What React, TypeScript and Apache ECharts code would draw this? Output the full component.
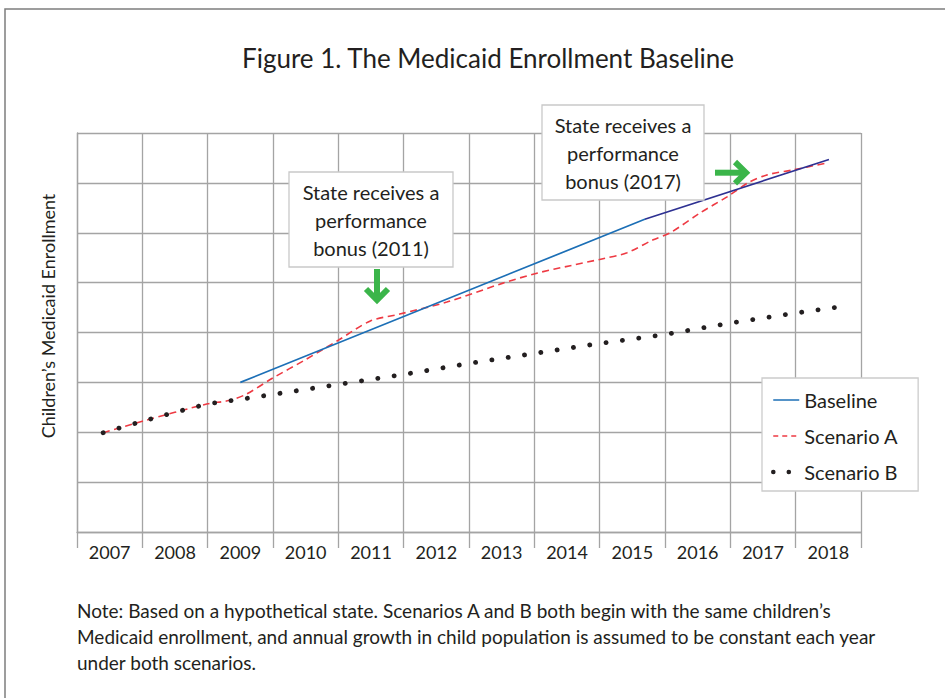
import React, { useEffect, useRef } from 'react';
import * as echarts from 'echarts';

const FONT = 'Lato';
const TEXT_COLOR = '#231f20';
const GRID_COLOR = '#a4a4a4';

const titleText = 'Figure 1. The Medicaid Enrollment Baseline';
const yAxisName = 'Children\u2019s Medicaid Enrollment';
const years = ['2007', '2008', '2009', '2010', '2011', '2012', '2013', '2014', '2015', '2016', '2017', '2018'];
const yearMin = 2007;
const yearMax = 2019;
const yMin = 0;
const yMax = 8;

const baselineX = [2009.5, 2015.69, 2018.51];
const baselineY = [3.0, 6.27, 7.47];

const scenarioAX = [2007.4, 2008.0, 2009.0, 2009.3, 2009.57, 2010.0, 2010.49, 2010.98, 2011.49, 2011.94, 2012.66, 2013.52, 2014.04, 2014.55, 2015.05, 2015.42, 2015.82, 2016.08, 2016.54, 2016.95, 2017.27, 2017.56, 2017.96, 2018.48];
const scenarioAY = [1.99, 2.22, 2.57, 2.63, 2.75, 3.09, 3.45, 3.83, 4.23, 4.37, 4.61, 4.99, 5.19, 5.34, 5.48, 5.6, 5.86, 6.0, 6.4, 6.72, 7.0, 7.16, 7.26, 7.4];

const scenarioBX = [2007.4, 2008.0, 2008.5, 2009.0, 2009.5, 2010, 2011, 2012, 2013, 2014, 2015, 2016, 2017, 2018, 2018.65];
const scenarioBY = [1.99, 2.22, 2.4, 2.57, 2.66, 2.76, 2.96, 3.16, 3.38, 3.58, 3.78, 3.96, 4.19, 4.39, 4.51];

const seriesNames = ['Baseline', 'Scenario A', 'Scenario B'];
const annotation2011 = ['State receives a', 'performance', 'bonus (2011)'];
const annotation2017 = ['State receives a', 'performance', 'bonus (2017)'];
const noteLines = [
  'Note: Based on a hypothetical state. Scenarios A and B both begin with the same children\u2019s',
  'Medicaid enrollment, and annual growth in child population is assumed to be constant each year',
  'under both scenarios.',
];

const zip = (xs: number[], ys: number[]) => xs.map((x, i) => [x, ys[i]]);

export default function App() {
  const ref = useRef<HTMLDivElement>(null);

  useEffect(() => {
    if (!ref.current) return;
    const chart = echarts.init(ref.current, null, { renderer: 'svg' });

    const kink = (baselineX[1] - baselineX[0]) / (baselineX[baselineX.length - 1] - baselineX[0]);
    const baseGrad = new echarts.graphic.LinearGradient(0, 0, 1, 0, [
      { offset: 0, color: '#1c6fb6' },
      { offset: kink, color: '#1c6fb6' },
      { offset: kink, color: '#2e3192' },
      { offset: 1, color: '#2e3192' },
    ]);

    const green = '#3bb54a';

    const box = (x: number, y: number, w: number, h: number, lines: string[]) => ({
      type: 'group',
      x,
      y,
      z: 100,
      children: [
        {
          type: 'rect',
          z: 100,
          shape: { x: 0, y: 0, width: w, height: h },
          style: { fill: '#ffffff', stroke: '#c9c9c9', lineWidth: 1.3 },
        },
        {
          type: 'text',
          z: 101,
          x: w / 2,
          y: h / 2,
          style: {
            text: lines.join('\n'),
            fill: TEXT_COLOR,
            font: `20px ${FONT}`,
            lineHeight: 28,
            align: 'center',
            verticalAlign: 'middle',
          },
        },
      ],
    });

    chart.setOption({
      animation: false,
      backgroundColor: '#ffffff',
      title: {
        text: titleText,
        left: 237,
        top: 40,
        textStyle: { fontFamily: FONT, fontSize: 26, fontWeight: 'normal', color: TEXT_COLOR },
      },
      grid: { left: 77, right: 84, top: 133, bottom: 166, containLabel: false },
      legend: {
        orient: 'vertical',
        left: 762,
        top: 378,
        align: 'left',
        itemWidth: 26,
        itemHeight: 14,
        itemGap: 16,
        padding: [12, 20, 9, 9],
        backgroundColor: '#ffffff',
        borderColor: '#cccccc',
        borderWidth: 1.3,
        z: 100,
        itemStyle: { opacity: 0, color: 'rgba(0,0,0,0)', borderWidth: 0 },
        textStyle: { fontFamily: FONT, fontSize: 20, color: TEXT_COLOR, lineHeight: 20 },
        data: [
          { name: seriesNames[0], lineStyle: { color: '#1c6fb6', width: 1.5, type: 'solid' } },
          { name: seriesNames[1], lineStyle: { color: '#ee3a43', width: 1.5, type: [5, 4] } },
          { name: seriesNames[2], lineStyle: { color: TEXT_COLOR, width: 4.5, type: [0.1, 15.4], cap: 'round' } },
        ],
      },
      xAxis: [
        {
          type: 'category',
          data: years,
          boundaryGap: true,
          axisLine: { show: true, lineStyle: { color: GRID_COLOR, width: 1.3 } },
          axisTick: { show: true, length: 16, lineStyle: { color: GRID_COLOR, width: 1.3 } },
          axisLabel: { fontFamily: FONT, fontSize: 18, color: TEXT_COLOR, margin: 11 },
          splitLine: { show: true, lineStyle: { color: GRID_COLOR, width: 1.3 } },
        },
        {
          type: 'value',
          min: yearMin,
          max: yearMax,
          show: false,
          splitLine: { show: false },
        },
      ],
      yAxis: {
        type: 'value',
        min: yMin,
        max: yMax,
        interval: 1,
        axisLine: { show: true, lineStyle: { color: GRID_COLOR, width: 1.3 } },
        axisTick: { show: false },
        axisLabel: { show: false },
        splitLine: { show: true, lineStyle: { color: GRID_COLOR, width: 1.3 } },
      },
      series: [
        {
          name: seriesNames[1],
          type: 'line',
          xAxisIndex: 1,
          data: zip(scenarioAX, scenarioAY),
          showSymbol: false,
          symbol: 'none',
          smooth: 0.3,
          lineStyle: { color: '#ee3a43', width: 1.6, type: [7, 4.5] },
          itemStyle: { color: '#ee3a43' },
          z: 3,
        },
        {
          name: seriesNames[2],
          type: 'line',
          xAxisIndex: 1,
          data: zip(scenarioBX, scenarioBY),
          showSymbol: false,
          symbol: 'none',
          lineStyle: { color: TEXT_COLOR, width: 4.8, type: [0.1, 16.4], cap: 'round' },
          itemStyle: { color: TEXT_COLOR },
          z: 4,
        },
        {
          name: seriesNames[0],
          type: 'line',
          xAxisIndex: 1,
          data: zip(baselineX, baselineY),
          showSymbol: false,
          symbol: 'none',
          lineStyle: { color: baseGrad, width: 1.7 },
          itemStyle: { color: '#1c6fb6' },
          z: 5,
        },
      ],
      graphic: [
        {
          type: 'rect',
          shape: { x: 5, y: 9, width: 1000, height: 1000 },
          style: { fill: 'none', stroke: '#7d7d7d', lineWidth: 1.5 },
          silent: true,
          z: 0,
        },
        {
          type: 'text',
          x: 48,
          y: 316,
          rotation: Math.PI / 2,
          z: 10,
          style: {
            text: yAxisName,
            fill: TEXT_COLOR,
            font: `18px ${FONT}`,
            align: 'center',
            verticalAlign: 'middle',
          },
        },
        box(289, 172, 164, 95, annotation2011),
        box(542, 105, 162, 95, annotation2017),
        {
          type: 'group',
          z: 100,
          children: [
            { type: 'line', z: 102, shape: { x1: 377, y1: 269, x2: 377, y2: 298 }, style: { stroke: green, lineWidth: 6 } },
            { type: 'polyline', z: 102, shape: { points: [[366, 289], [377, 300], [388, 289]] }, style: { stroke: green, lineWidth: 6, fill: 'none', lineJoin: 'miter' } },
            { type: 'line', z: 102, shape: { x1: 715, y1: 172.7, x2: 745, y2: 172.7 }, style: { stroke: green, lineWidth: 6 } },
            { type: 'polyline', z: 102, shape: { points: [[735, 162], [746, 172.7], [735, 183.4]] }, style: { stroke: green, lineWidth: 6, fill: 'none', lineJoin: 'miter' } },
          ],
        },
        {
          type: 'text',
          x: 77,
          y: 597,
          style: {
            text: noteLines.join('\n'),
            fill: TEXT_COLOR,
            font: `19px ${FONT}`,
            lineHeight: 26,
          },
        },
      ],
    });

    return () => chart.dispose();
  }, []);

  return <div ref={ref} style={{ position: 'fixed', left: 0, top: 0, width: 945, height: 698 }} />;
}
